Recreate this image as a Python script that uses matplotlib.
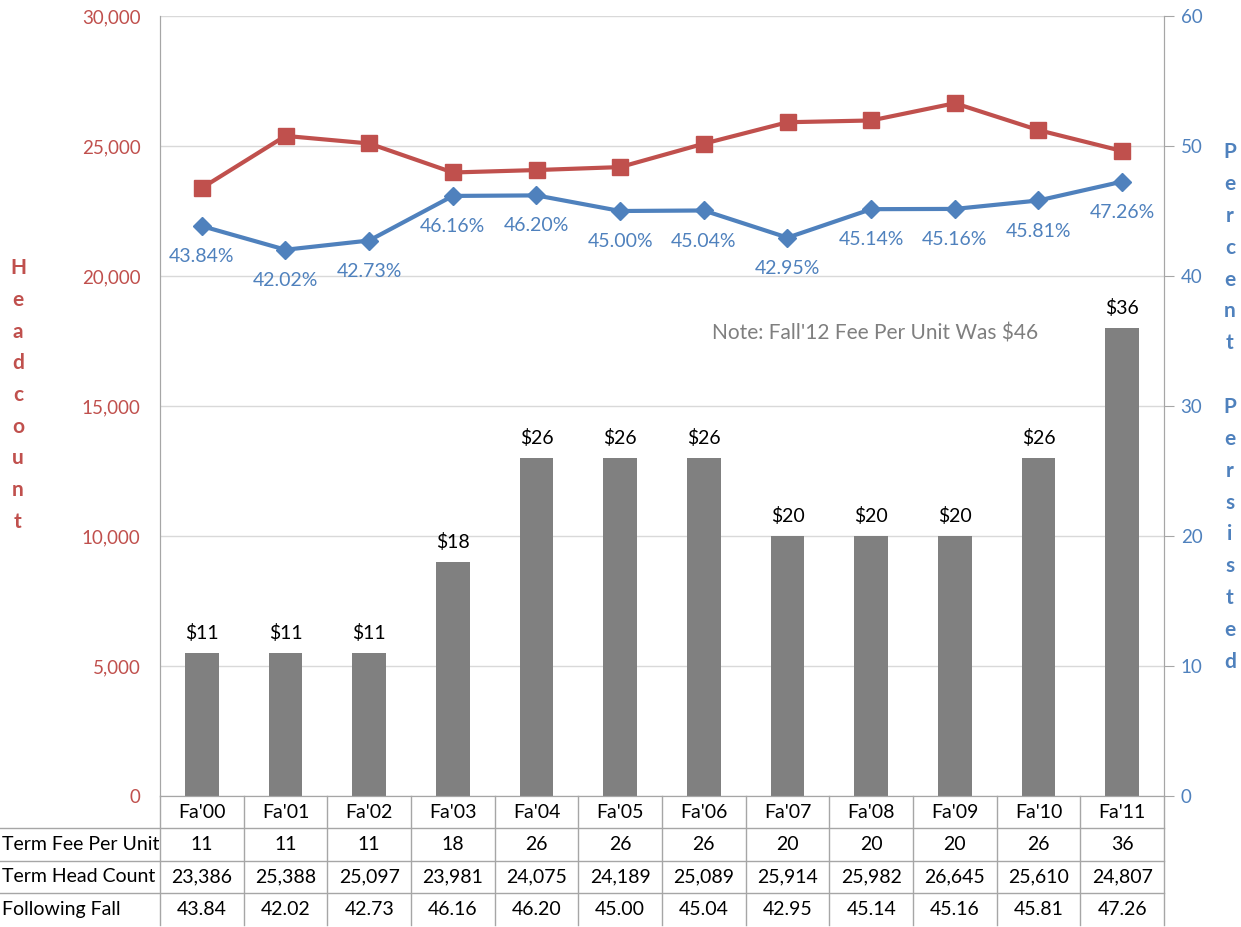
import matplotlib
matplotlib.use("Agg")
import matplotlib.pyplot as plt
import matplotlib.transforms as mtransforms
import numpy as np

# data
terms = ["Fa'00", "Fa'01", "Fa'02", "Fa'03", "Fa'04", "Fa'05",
         "Fa'06", "Fa'07", "Fa'08", "Fa'09", "Fa'10", "Fa'11"]
fee_per_unit = [11, 11, 11, 18, 26, 26, 26, 20, 20, 20, 26, 36]
head_count = [23386, 25388, 25097, 23981, 24075, 24189,
              25089, 25914, 25982, 26645, 25610, 24807]
pct_persisted = [43.84, 42.02, 42.73, 46.16, 46.20, 45.00,
                 45.04, 42.95, 45.14, 45.16, 45.81, 47.26]
row_names = ["Term Fee Per Unit", "Term Head Count", "Following Fall"]
note = "Note: Fall'12 Fee Per Unit Was $46"

RED = "#C0504D"
BLUE = "#4F81BD"
BAR = "#808080"
GRID = "#d9d9d9"
LINE = "#a6a6a6"

plt.rcParams['font.family'] = ['Lato', 'DejaVu Sans']

fig = plt.figure(figsize=(12.41, 9.27), dpi=100)
ax = fig.add_axes([160/1241, 1 - 796/927, 1004/1241, 780/927])
ax2 = ax.twinx()

x = np.arange(len(terms))

# bars on the percent axis
ax2.bar(x, fee_per_unit, width=0.4, color=BAR, zorder=2)
for xi, v in zip(x, fee_per_unit):
    ax2.annotate("$%d" % v, (xi, v), xytext=(0, 8), textcoords="offset points",
                 ha="center", va="bottom", fontsize=14, color="black", zorder=4)

# headcount line
ax.plot(x, head_count, color=RED, lw=3, marker="s", ms=11, zorder=3)

# percent line
ax2.plot(x, pct_persisted, color=BLUE, lw=3, marker="D", ms=9, zorder=3)
for xi, v in zip(x, pct_persisted):
    ax2.annotate("%.2f%%" % v, (xi, v), xytext=(0, -22), textcoords="offset points",
                 ha="center", va="center", fontsize=14, color=BLUE, zorder=4)

ax2.text(6.1, 35.6, note, ha="left", va="center", fontsize=15, color="#7f7f7f")

# axes styling
ax.set_xlim(-0.5, len(terms) - 0.5)
ax.set_ylim(0, 30000)
ax2.set_ylim(0, 60)
ax.set_yticks(np.arange(0, 30001, 5000))
ax2.set_yticks(np.arange(0, 61, 10))
ax.yaxis.set_major_formatter(matplotlib.ticker.FuncFormatter(lambda v, p: "{:,.0f}".format(v)))
ax.set_xticks([])
# grid lives on the bar axis so the bars sit on top of it
ax2.grid(axis="y", color=GRID, lw=1)
ax2.set_axisbelow(True)
ax.tick_params(axis="y", length=0, labelcolor=RED, labelsize=13.5, pad=14)
ax2.tick_params(axis="y", length=7, color=LINE, labelcolor=BLUE, labelsize=13.5, pad=5)
for a in (ax, ax2):
    a.spines["top"].set_visible(False)
    a.spines["left"].set_color(LINE)
    a.spines["right"].set_color(LINE)
    a.spines["bottom"].set_color(LINE)

ax.patch.set_visible(False)
ax2.patch.set_visible(False)
# keep the red line above the bars
ax.set_zorder(ax2.get_zorder() + 1)

# stacked axis titles
fig.text(18/1241, 1 - 395/927, "\n".join("Headcount"), ha="center", va="center",
         fontsize=15, fontweight="bold", color=RED, linespacing=1.73)
fig.text(1230/1241, 1 - 407/927, "\n".join("Percent") + "\n\n" + "\n".join("Persisted"),
         ha="center", va="center", fontsize=15, fontweight="bold", color=BLUE,
         linespacing=1.74)

# data table under the chart
rh = 32.3 / 780
left_frac = -160 / 1004
tb = mtransforms.blended_transform_factory(ax.transData, ax.transAxes)
tf = mtransforms.blended_transform_factory(fig.transFigure, ax.transAxes)

rows = [[str(v) for v in fee_per_unit],
        ["{:,}".format(v) for v in head_count],
        ["%.2f" % v for v in pct_persisted]]

for xi, t in zip(x, terms):
    ax.text(xi, -0.5 * rh, t, transform=tb, ha="center", va="center", fontsize=14,
            clip_on=False)
for r, (name, vals) in enumerate(zip(row_names, rows)):
    yc = -(r + 1.5) * rh
    fig.text(0.002, yc, name, transform=tf, ha="left", va="center", fontsize=14)
    for xi, s in zip(x, vals):
        ax.text(xi, yc, s, transform=tb, ha="center", va="center", fontsize=14,
                clip_on=False)
    ax.plot([left_frac, 1], [-(r + 1) * rh] * 2, transform=ax.transAxes,
            color=LINE, lw=1, clip_on=False)
for k in range(len(terms) + 1):
    ax.plot([k - 0.5, k - 0.5], [0, -4 * rh], transform=tb, color=LINE, lw=1,
            clip_on=False)

fig.savefig("out.png", dpi=100)
